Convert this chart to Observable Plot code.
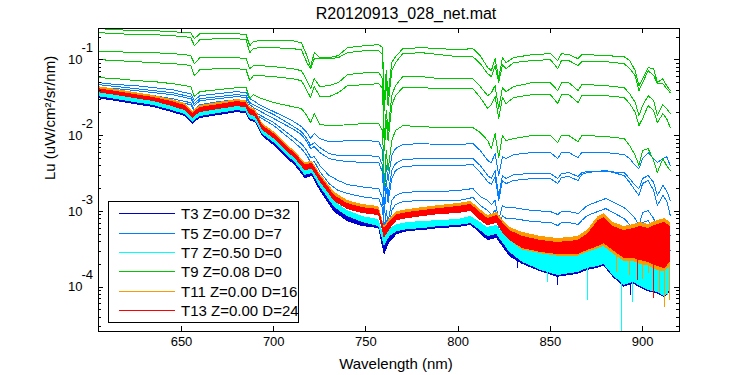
<!DOCTYPE html>
<html><head><meta charset="utf-8">
<script src="https://cdn.jsdelivr.net/npm/d3@7"></script>
<script src="https://cdn.jsdelivr.net/npm/@observablehq/plot@0.6"></script>
<style>body{margin:0;background:#fff;} #chart{width:750px;height:375px;}</style>
</head><body><div id="chart"></div>
<script>
// ---------- data (values are log10 of Lu) ----------
const wavelengths = [605,615,625,635,645,652,655,657,660,670,680,685,687,689,692,700,710,715,718,720,722,725,730,735,740,750,757,759,760,761,762,764,766,770,780,790,800,808,812,816,818,820,822,824,826,830,840,850,854,856,860,865,867,870,880,890,893,896,898,900,903,906,908,911,913,915];

// T9 (green) spectra
const t9_1 = [-0.587,-0.600,-0.614,-0.614,-0.627,-0.640,-0.640,-0.719,-0.653,-0.653,-0.653,-0.666,-0.811,-0.759,-0.745,
-0.745,-0.745,-0.772,-0.943,-1.088,-0.904,-0.970,-0.970,-0.943,-0.838,
-0.811,-0.798,-0.838,-1.537,-1.141,-1.471,-1.036,-0.957,-0.851,-0.838,
-0.851,-0.864,-0.851,-0.943,-1.102,-1.141,-0.983,-1.247,-0.970,-1.036,
-0.970,-0.930,-0.917,-1.009,-0.917,-0.930,-0.983,-0.930,-0.930,-0.943,
-0.957,-1.009,-1.141,-1.339,-1.247,-1.102,-1.115,-1.300,-1.247,-1.339,-1.405];
const t9_2 = [-0.640,-0.653,-0.666,-0.666,-0.680,-0.693,-0.706,-0.811,-0.732,-0.719,-0.719,-0.732,-0.904,-0.851,-0.838,
-0.838,-0.851,-0.864,-1.036,-1.115,-0.983,-0.983,-0.983,-0.970,-0.904,
-0.877,-0.877,-0.930,-1.669,-1.273,-1.603,-1.141,-1.036,-0.917,-0.904,
-0.930,-0.957,-0.957,-1.049,-1.181,-1.220,-1.075,-1.300,-1.062,-1.115,
-1.036,-1.009,-0.996,-1.115,-1.009,-1.009,-1.075,-1.023,-1.023,-1.023,
-1.049,-1.115,-1.207,-1.405,-1.300,-1.141,-1.207,-1.313,-1.313,-1.379,-1.432];
const t9_3 = [-0.891,-0.891,-0.904,-0.904,-0.917,-0.930,-0.943,-1.049,-0.970,-0.970,-0.970,-0.983,-1.115,-1.075,-1.075,
-1.088,-1.115,-1.141,-1.273,-1.379,-1.247,-1.352,-1.339,-1.300,-1.194,
-1.168,-1.168,-1.247,-2.064,-1.669,-1.932,-1.471,-1.339,-1.220,-1.220,
-1.247,-1.247,-1.247,-1.352,-1.471,-1.432,-1.339,-1.642,-1.366,-1.418,
-1.352,-1.300,-1.300,-1.405,-1.300,-1.300,-1.405,-1.326,-1.326,-1.339,
-1.366,-1.445,-1.563,-1.735,-1.603,-1.471,-1.537,-1.735,-1.590,-1.642,-1.708];
const t9_4 = [-0.996,-1.009,-1.023,-1.036,-1.049,-1.062,-1.075,-1.207,-1.128,-1.115,-1.115,-1.128,-1.273,-1.207,-1.207,
-1.220,-1.247,-1.273,-1.405,-1.497,-1.352,-1.484,-1.484,-1.432,-1.339,
-1.326,-1.313,-1.379,-2.196,-1.801,-2.064,-1.603,-1.471,-1.366,-1.366,
-1.379,-1.379,-1.379,-1.497,-1.642,-1.590,-1.484,-1.774,-1.497,-1.576,
-1.497,-1.458,-1.458,-1.576,-1.458,-1.458,-1.563,-1.471,-1.471,-1.471,
-1.497,-1.576,-1.695,-1.867,-1.774,-1.603,-1.669,-1.827,-1.708,-1.774,-1.893];
const t9_5 = [-1.234,-1.247,-1.273,-1.286,-1.313,-1.339,-1.352,-1.484,-1.418,-1.392,-1.366,-1.366,-1.511,-1.458,-1.497,
-1.563,-1.616,-1.642,-1.735,-1.827,-1.708,-1.853,-1.867,-1.867,-1.853,
-1.840,-1.840,-1.932,-2.658,-2.196,-2.460,-2.064,-1.932,-1.867,-1.880,
-1.893,-1.893,-1.893,-1.959,-2.064,-2.170,-1.972,-2.289,-1.998,-2.064,
-2.038,-1.998,-1.998,-2.091,-1.998,-1.998,-2.078,-1.998,-1.998,-2.012,
-2.038,-2.130,-2.262,-2.394,-2.196,-2.170,-2.328,-2.487,-2.302,-2.394,-2.460];

// T5 (blue) spectra
const t5_1 = [-1.300,-1.326,-1.339,-1.366,-1.392,-1.432,-1.445,-1.537,-1.471,-1.445,-1.418,-1.432,-1.511,-1.537,-1.590,
-1.682,-1.801,-1.880,-1.959,-2.038,-1.972,-2.038,-2.078,-2.078,-2.064,
-2.064,-2.078,-2.196,-2.724,-2.394,-2.592,-2.262,-2.170,-2.117,-2.104,
-2.117,-2.117,-2.104,-2.196,-2.328,-2.355,-2.236,-2.526,-2.275,-2.302,
-2.249,-2.223,-2.223,-2.302,-2.223,-2.223,-2.289,-2.223,-2.223,-2.223,
-2.249,-2.302,-2.394,-2.434,-2.302,-2.223,-2.302,-2.355,-2.302,-2.275,-2.394];
const t5_2 = [-1.326,-1.352,-1.379,-1.405,-1.432,-1.471,-1.484,-1.576,-1.511,-1.484,-1.458,-1.471,-1.563,-1.590,-1.629,
-1.721,-1.867,-1.946,-2.038,-2.130,-2.091,-2.157,-2.236,-2.262,-2.262,
-2.262,-2.275,-2.394,-2.922,-2.592,-2.790,-2.460,-2.368,-2.315,-2.302,
-2.302,-2.302,-2.302,-2.394,-2.526,-2.566,-2.460,-2.790,-2.526,-2.566,
-2.513,-2.500,-2.500,-2.566,-2.500,-2.487,-2.539,-2.487,-2.473,-2.473,
-2.487,-2.566,-2.658,-2.698,-2.566,-2.526,-2.618,-2.790,-2.658,-2.724,-2.856];
const t5_3 = [-1.366,-1.379,-1.405,-1.432,-1.458,-1.497,-1.511,-1.603,-1.537,-1.511,-1.484,-1.497,-1.590,-1.629,-1.669,
-1.774,-1.906,-1.985,-2.078,-2.170,-2.144,-2.223,-2.302,-2.328,-2.341,
-2.355,-2.355,-2.487,-3.014,-2.698,-2.883,-2.566,-2.460,-2.407,-2.394,
-2.394,-2.394,-2.381,-2.487,-2.605,-2.645,-2.539,-2.856,-2.592,-2.632,
-2.592,-2.566,-2.566,-2.632,-2.553,-2.539,-2.592,-2.513,-2.487,-2.460,
-2.526,-2.618,-2.724,-2.790,-2.632,-2.592,-2.724,-2.922,-2.790,-2.856,-3.054];
const t5_4 = [-1.392,-1.418,-1.445,-1.471,-1.511,-1.550,-1.563,-1.655,-1.590,-1.550,-1.524,-1.537,-1.629,-1.669,-1.721,
-1.827,-2.012,-2.104,-2.196,-2.289,-2.275,-2.394,-2.526,-2.592,-2.645,
-2.684,-2.698,-2.830,-3.226,-2.988,-3.146,-2.856,-2.790,-2.750,-2.737,
-2.737,-2.724,-2.698,-2.803,-2.856,-2.909,-2.856,-3.120,-2.922,-2.949,
-2.949,-2.988,-3.001,-3.041,-3.001,-3.001,-3.028,-2.988,-2.922,-2.830,
-2.949,-3.014,-3.094,-3.186,-3.014,-2.988,-3.094,-3.226,-3.120,-3.186,-3.318];
const t5_5 = [-1.405,-1.432,-1.471,-1.497,-1.537,-1.576,-1.590,-1.682,-1.616,-1.576,-1.550,-1.563,-1.655,-1.695,-1.748,
-1.867,-2.064,-2.170,-2.262,-2.355,-2.341,-2.473,-2.632,-2.724,-2.764,
-2.816,-2.830,-2.962,-3.318,-3.120,-3.252,-2.988,-2.909,-2.869,-2.856,
-2.856,-2.856,-2.816,-2.922,-2.988,-3.041,-2.988,-3.226,-3.054,-3.094,
-3.094,-3.133,-3.146,-3.186,-3.146,-3.146,-3.173,-3.120,-3.054,-2.962,
-3.094,-3.173,-3.252,-3.358,-3.146,-3.120,-3.252,-3.384,-3.278,-3.358,-3.516];

// noisy spectra (T3, T7, T11, T13) as upper / lower envelopes (log10)
const bandWavelengths = [605,615,625,635,645,652,656,660,670,680,685,687,690,694,700,705,712,717,721,725,733,740,748,757,760,763,767,773,781,790,800,807,812,816,821,824,828,835,845,854,865,870,876,879,884,890,895,899,903,908,912,915];
const t13Upper = [-1.379,-1.418,-1.458,-1.497,-1.550,-1.603,-1.708,-1.629,-1.590,-1.550,-1.563,-1.642,-1.682,-1.867,-1.972,-2.091,-2.249,-2.381,-2.368,-2.526,-2.790,-2.896,-2.949,-2.975,-3.226,-3.133,-3.041,-3.014,-2.988,-2.962,-2.935,-2.909,-3.014,-3.094,-3.054,-3.146,-3.252,-3.331,-3.384,-3.410,-3.384,-3.305,-3.120,-3.081,-3.199,-3.252,-3.226,-3.199,-3.226,-3.173,-3.146,-3.199];
const t13Lower = [-1.432,-1.471,-1.511,-1.550,-1.616,-1.669,-1.774,-1.695,-1.655,-1.616,-1.629,-1.721,-1.748,-1.932,-2.038,-2.157,-2.315,-2.460,-2.447,-2.605,-2.869,-2.975,-3.028,-3.054,-3.358,-3.239,-3.120,-3.094,-3.067,-3.041,-3.028,-3.001,-3.120,-3.186,-3.160,-3.278,-3.384,-3.490,-3.542,-3.569,-3.569,-3.516,-3.463,-3.424,-3.516,-3.621,-3.621,-3.648,-3.674,-3.727,-3.753,-3.674];
const t11Upper = [-1.352,-1.392,-1.432,-1.471,-1.524,-1.576,-1.682,-1.603,-1.563,-1.524,-1.537,-1.616,-1.655,-1.840,-1.946,-2.064,-2.223,-2.355,-2.341,-2.500,-2.750,-2.856,-2.909,-2.935,-3.199,-3.094,-3.001,-2.975,-2.949,-2.922,-2.896,-2.869,-2.975,-3.054,-3.014,-3.107,-3.212,-3.278,-3.331,-3.358,-3.331,-3.252,-3.067,-3.028,-3.146,-3.199,-3.173,-3.146,-3.173,-3.120,-3.094,-3.146];
const t11Lower = [-1.418,-1.458,-1.497,-1.537,-1.603,-1.655,-1.761,-1.682,-1.642,-1.603,-1.616,-1.708,-1.735,-1.919,-2.025,-2.144,-2.302,-2.447,-2.434,-2.592,-2.856,-2.962,-3.014,-3.041,-3.331,-3.226,-3.107,-3.081,-3.054,-3.028,-3.014,-2.988,-3.107,-3.173,-3.146,-3.265,-3.384,-3.51,-3.56,-3.59,-3.59,-3.54,-3.49,-3.46,-3.56,-3.66,-3.66,-3.70,-3.72,-3.78,-3.80,-3.72];
const t7Upper = [-1.432,-1.471,-1.511,-1.550,-1.616,-1.669,-1.774,-1.695,-1.655,-1.616,-1.629,-1.721,-1.748,-1.932,-2.038,-2.157,-2.315,-2.460,-2.434,-2.605,-2.869,-2.988,-3.067,-3.107,-3.331,-3.226,-3.173,-3.146,-3.133,-3.120,-3.107,-3.067,-3.146,-3.212,-3.186,-3.278,-3.384,-3.476,-3.529,-3.569,-3.542,-3.463,-3.331,-3.292,-3.384,-3.410,-3.490,-3.542,-3.582,-3.621,-3.569,-3.542];
const t7Lower = [-1.484,-1.524,-1.563,-1.603,-1.669,-1.721,-1.827,-1.748,-1.708,-1.669,-1.682,-1.774,-1.801,-1.985,-2.091,-2.210,-2.368,-2.526,-2.500,-2.671,-2.949,-3.067,-3.146,-3.199,-3.463,-3.331,-3.265,-3.239,-3.226,-3.199,-3.186,-3.160,-3.252,-3.331,-3.305,-3.410,-3.542,-3.674,-3.780,-3.846,-3.806,-3.753,-3.727,-3.700,-3.846,-3.978,-3.938,-3.991,-4.044,-4.070,-4.123,-4.044];
const t3Upper = [-1.445,-1.484,-1.524,-1.563,-1.629,-1.682,-1.787,-1.708,-1.669,-1.629,-1.642,-1.735,-1.761,-1.946,-2.051,-2.170,-2.328,-2.473,-2.447,-2.618,-2.896,-3.014,-3.107,-3.146,-3.384,-3.278,-3.199,-3.173,-3.160,-3.146,-3.133,-3.107,-3.186,-3.252,-3.226,-3.318,-3.437,-3.516,-3.582,-3.621,-3.595,-3.516,-3.384,-3.358,-3.450,-3.490,-3.542,-3.595,-3.621,-3.648,-3.621,-3.595];
const t3Lower = [-1.511,-1.550,-1.590,-1.629,-1.695,-1.748,-1.853,-1.774,-1.735,-1.695,-1.708,-1.801,-1.827,-2.012,-2.130,-2.249,-2.407,-2.566,-2.539,-2.724,-3.014,-3.133,-3.199,-3.226,-3.582,-3.410,-3.305,-3.265,-3.252,-3.226,-3.212,-3.186,-3.292,-3.384,-3.358,-3.463,-3.600,-3.70,-3.80,-3.87,-3.83,-3.78,-3.75,-3.72,-3.87,-4.00,-3.96,-4.01,-4.06,-4.09,-4.14,-4.06];

// isolated downward noise spikes
const t3SpikeWl = [832, 854, 893.5, 911];
const t3SpikeTop = [-3.5, -3.7, -3.8, -3.8];
const t3SpikeBottom = [-3.75, -3.978, -4.110, -4.044];
const t7SpikeWl = [848.5, 870, 888.7, 894.5, 906, 913.5];
const t7SpikeTop = [-3.7, -3.7, -3.7, -3.8, -3.8, -3.8];
const t7SpikeBottom = [-3.938, -4.176, -4.70, -4.202, -4.070, -4.110];
const t11SpikeWl = [886, 893, 900, 903, 909, 912, 914.5];
const t11SpikeTop = [-3.5, -3.5, -3.5, -3.5, -3.5, -3.5, -3.5];
const t11SpikeBottom = [-3.80, -3.85, -3.90, -3.82, -4.070, -4.268, -4.176];
const t13SpikeWl = [897, 906];
const t13SpikeTop = [-3.4, -3.4];
const t13SpikeBottom = [-3.912, -4.149];

// axes and legend
const xTicks = [650, 700, 750, 800, 850, 900];
const yMajorTicks = [1e-4, 1e-3, 1e-2, 1e-1];
const yMinorTicks = [3e-5,4e-5,5e-5,6e-5,7e-5,8e-5,9e-5,2e-4,3e-4,4e-4,5e-4,6e-4,7e-4,8e-4,9e-4,2e-3,3e-3,4e-3,5e-3,6e-3,7e-3,8e-3,9e-3,2e-2,3e-2,4e-2,5e-2,6e-2,7e-2,8e-2,9e-2,2e-1];
const legendLabels = ["T3 Z=0.00 D=32","T5 Z=0.00 D=7","T7 Z=0.50 D=0","T9 Z=0.08 D=0","T11 Z=0.00 D=16","T13 Z=0.00 D=24"];
const legendColors = ["#0000cc","#0080ff","#00ffff","#00c800","#ff9900","#ff0000"];
const titleText = "R20120913_028_net.mat";
const xLabel = "Wavelength (nm)";
const yLabel = "Lu (uW/cm²/sr/nm)";

// ---------- tables ----------
const lineRows = (arrs) => arrs.flatMap((a, k) => wavelengths.map((w, i) => ({wl: w, lu: 10 ** a[i], id: k})));
const bandRows = (up, lo) => bandWavelengths.map((w, i) => ({wl: w, hi: 10 ** up[i], lo: 10 ** lo[i]}));
const spikeRows = (wl, top, bot) => wl.map((w, i) => ({wl: w, hi: 10 ** top[i], lo: 10 ** bot[i]}));
const t5Rows = lineRows([t5_1, t5_2, t5_3, t5_4, t5_5]);
const t9Rows = lineRows([t9_1, t9_2, t9_3, t9_4, t9_5]);

const FONT = "'Liberation Sans', Arial, Helvetica, sans-serif";
const W = 750, H = 375, ML = 98, MR = 71, MT = 28, MB = 44;
const FW = W - ML - MR, FH = H - MT - MB;
const crisp = {shapeRendering: "crispEdges", clip: true};

const band = (up, lo, color) => Plot.areaY(bandRows(up, lo), {x: "wl", y1: "lo", y2: "hi", fill: color, ...crisp});
const spikes = (wl, t, b, color) => Plot.ruleX(spikeRows(wl, t, b), {x: "wl", y1: "lo", y2: "hi", stroke: color, strokeWidth: 1, ...crisp});

const plot = Plot.plot({
  width: W, height: H,
  marginLeft: ML, marginRight: MR, marginTop: MT, marginBottom: MB,
  style: {fontFamily: FONT, background: "white", color: "black", overflow: "visible"},
  x: {domain: [605, 920], axis: null},
  y: {type: "log", domain: [2.6e-5, 0.26], axis: null},
  marks: [
    band(t3Upper, t3Lower, legendColors[0]),
    spikes(t3SpikeWl, t3SpikeTop, t3SpikeBottom, legendColors[0]),
    Plot.line(t5Rows, {x: "wl", y: "lu", z: "id", stroke: legendColors[1], strokeWidth: 1, ...crisp}),
    band(t7Upper, t7Lower, legendColors[2]),
    spikes(t7SpikeWl, t7SpikeTop, t7SpikeBottom, legendColors[2]),
    Plot.line(t9Rows, {x: "wl", y: "lu", z: "id", stroke: legendColors[3], strokeWidth: 1, ...crisp}),
    band(t11Upper, t11Lower, legendColors[4]),
    spikes(t11SpikeWl, t11SpikeTop, t11SpikeBottom, legendColors[4]),
    band(t13Upper, t13Lower, legendColors[5]),
    spikes(t13SpikeWl, t13SpikeTop, t13SpikeBottom, legendColors[5]),
    Plot.frame({stroke: "black", strokeWidth: 1, shapeRendering: "crispEdges"}),
    // inward ticks, all four sides
    Plot.tickX(xTicks, {x: d => d, insetTop: FH - 5, stroke: "black", shapeRendering: "crispEdges"}),
    Plot.tickX(xTicks, {x: d => d, insetBottom: FH - 5, stroke: "black", shapeRendering: "crispEdges"}),
    Plot.tickY(yMajorTicks, {y: d => d, insetRight: FW - 5, stroke: "black", shapeRendering: "crispEdges"}),
    Plot.tickY(yMajorTicks, {y: d => d, insetLeft: FW - 5, stroke: "black", shapeRendering: "crispEdges"}),
    Plot.tickY(yMinorTicks, {y: d => d, insetRight: FW - 3, stroke: "black", shapeRendering: "crispEdges"}),
    Plot.tickY(yMinorTicks, {y: d => d, insetLeft: FW - 3, stroke: "black", shapeRendering: "crispEdges"}),
    // tick labels
    Plot.text(xTicks, {x: d => d, frameAnchor: "bottom", dy: 14, text: d => String(d), fontSize: 13, fill: "black"}),
    Plot.text(yMajorTicks, {y: d => d, frameAnchor: "left", dx: -16, textAnchor: "end", text: () => "10", fontSize: 13, fill: "black"}),
    Plot.text(yMajorTicks, {y: d => d, frameAnchor: "left", dx: -17, dy: -12, textAnchor: "start", text: d => String(Math.round(Math.log10(d))), fontSize: 13, fill: "black"}),
    // title and axis labels
    Plot.text([titleText], {frameAnchor: "top", dx: 17, dy: -10, lineAnchor: "bottom", text: d => d, fontSize: 16, fill: "black"}),
    Plot.text([xLabel], {frameAnchor: "bottom", dx: 7, dy: 37, lineAnchor: "bottom", text: d => d, fontSize: 15, fill: "black"}),
    Plot.text([yLabel], {frameAnchor: "left", dx: -48, rotate: -90, text: d => d, fontSize: 15, fill: "black"})
  ]
});

// legend box (inside the axes, lower left)
const svg = d3.select(plot);
const lg = svg.append("g").attr("font-family", FONT).attr("font-size", 15)
  .attr("text-anchor", "start").style("text-anchor", "start");
lg.append("rect").attr("x", 108.5).attr("y", 201.5).attr("width", 190).attr("height", 121)
  .attr("fill", "white").attr("stroke", "black").attr("shape-rendering", "crispEdges");
legendLabels.forEach((label, i) => {
  const y = Math.round(213.3 + i * 19.3) + 0.5;
  lg.append("line").attr("x1", 119).attr("x2", 175).attr("y1", y).attr("y2", y)
    .attr("stroke", legendColors[i]).attr("stroke-width", 1).attr("shape-rendering", "crispEdges");
  lg.append("text").attr("x", 181).attr("y", y).attr("dy", "0.36em").attr("fill", "black")
    .style("text-anchor", "start").text(label);
});

document.getElementById("chart").appendChild(plot);
</script>
</body></html>
